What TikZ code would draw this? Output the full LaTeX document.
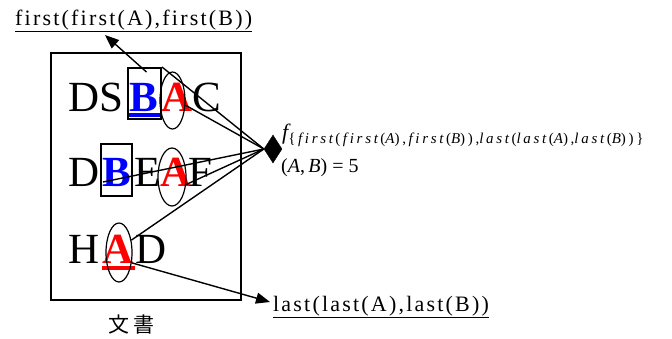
\documentclass[tikz,border=0pt]{standalone}
\usepackage{fontspec}
\usepackage{tikz}
\usetikzlibrary{arrows.meta, shapes.geometric, calc}
\setmainfont{Liberation Serif}
\newfontfamily\wideFont[LetterSpace=10]{Liberation Serif}
\newfontfamily\subFont[LetterSpace=18]{Liberation Serif}
\newfontfamily\jpFont{Noto Sans CJK JP}
\definecolor{markBlue}{RGB}{0,0,255}
\definecolor{markRed}{RGB}{255,0,0}
\tikzset{
  letterNode/.style={inner sep=0pt, anchor=base west, font=\fontsize{43}{43}\selectfont},
  blueLetter/.style={letterNode, font=\fontsize{43}{43}\selectfont\bfseries, text=markBlue},
  redLetter/.style={letterNode, font=\fontsize{43}{43}\selectfont\bfseries, text=markRed},
  keyBox/.style={draw, line width=2pt, inner sep=0pt},
  keyEllipse/.style={draw, ellipse, line width=1.2pt, inner sep=0pt},
  hubNode/.style={diamond, draw, fill=black, inner sep=0pt, minimum width=18pt, minimum height=28pt},
  labelNode/.style={inner sep=0pt, anchor=base west, font=\wideFont\fontsize{22}{22}\selectfont},
  linkLine/.style={line width=1.4pt},
  pointFlow/.style={-{Triangle[length=14pt,width=11pt]}, line width=1.4pt}
}
\begin{document}
\begin{tikzpicture}[x=1pt, y=-1pt]
  \useasboundingbox (0,0) rectangle (672,338);
  % document frame
  \node[draw, line width=1.5pt, minimum width=190pt, minimum height=247pt, inner sep=0pt] (doc) at (146,176.5) {};
  \node[font=\jpFont\fontsize{21}{21}\selectfont, inner sep=0pt] (docName) at (131.5,325) {文\hspace{5pt}書};

  % row 1
  \node[letterNode] (lD1) at (68,111) {D};
  \node[letterNode] (lS1) at (99,111) {S};
  \node[blueLetter] (lB1) at (129,111) {B};
  \node[redLetter] (lA1) at (161,111) {A};
  \node[letterNode] (lC1) at (192,111) {C};
  % row 2
  \node[letterNode] (lD2) at (68,186) {D};
  \node[blueLetter] (lB2) at (102,186) {B};
  \node[letterNode] (lE2) at (134,186) {E};
  \node[redLetter] (lA2) at (160,186) {A};
  \node[letterNode] (lF2) at (188,186) {F};
  % row 3
  \node[letterNode] (lH3) at (68,263) {H};
  \node[redLetter] (lA3) at (102,263) {A};
  \node[letterNode] (lD3) at (135,263) {D};

  \fill[markBlue] (129,113) rectangle (160,117);
  \fill[markRed] (102,266) rectangle (135,270);

  \node[keyBox, minimum width=33pt, minimum height=51pt] (box1) at (144.5,93.5) {};
  \node[keyBox, minimum width=31pt, minimum height=52pt] (box2) at (116.5,170) {};
  \node[keyEllipse, minimum width=25pt, minimum height=57pt] (ell1) at (172.5,100.5) {};
  \node[keyEllipse, minimum width=28pt, minimum height=58pt] (ell2) at (172,177) {};
  \node[keyEllipse, minimum width=26pt, minimum height=59pt] (ell3) at (119,252.5) {};

  \node[hubNode] (hub) at (273,149) {};

  \node[labelNode] (firstLbl) at (15,25) {\underline{first(first(A),first(B))}};
  \node[labelNode] (lastLbl) at (273,311) {\underline{last(last(A),last(B))}};
  \node[inner sep=0pt, anchor=base west] (fLbl) at (282,139)
  {{\fontsize{22}{22}\selectfont\itshape f}\raisebox{-4pt}{\subFont\fontsize{15}{15}\selectfont\{\,{\itshape first}\,(\,{\itshape first}\,({\itshape A}),\,{\itshape first}\,({\itshape B})),{\itshape last}\,({\itshape last}\,({\itshape A}),{\itshape last}\,({\itshape B}))\}}};
  \node[inner sep=0pt, anchor=base west, font=\fontsize{20}{20}\selectfont] (valLbl) at (281,172)
  {({\itshape A},\,{\itshape B})\ =\ 5};

  \draw[linkLine] (box1.north east) -- (hub.west);
  \draw[linkLine] (ell1.-20) -- (hub.west);
  \draw[linkLine] ($(lB2.base west)+(1,-4)$) -- (hub.west);
  \draw[linkLine] (ell2.-28) -- (hub.west);
  \draw[linkLine] (ell3.45) -- (hub.west);

  \draw[pointFlow] ($(box1.north)+(2,5)$) -- ($(firstLbl.base west)+(90,10)$);
  \draw[pointFlow] (ell3.-39) -- ($(lastLbl.base west)+(-3,-9)$);
\end{tikzpicture}
\end{document}
